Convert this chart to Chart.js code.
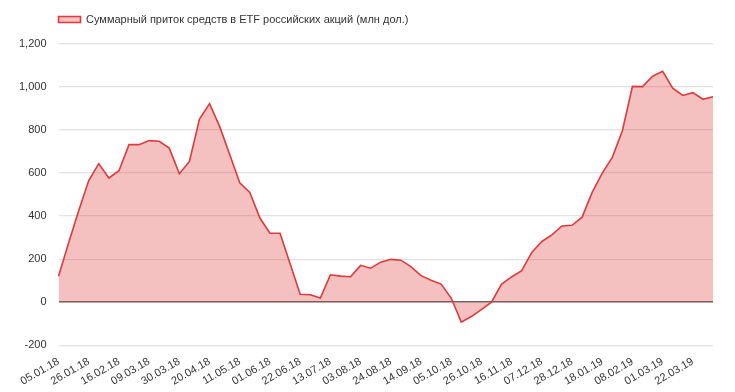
<!DOCTYPE html>
<html>
<head>
<meta charset="utf-8">
<script src="https://cdn.jsdelivr.net/npm/chart.js@4"></script>
<style>
  html, body { margin: 0; padding: 0; background: #fff; }
  #wrap { width: 735px; height: 392px; position: relative; }
</style>
</head>
<body>
<div id="wrap"><canvas id="chart"></canvas></div>
<script>
'use strict';

const seriesLabel = 'Суммарный приток средств в ETF российских акций (млн дол.)';

// weekly dates, 05.01.18 .. 05.04.19
const dates = [
  '05.01.18', '12.01.18', '19.01.18', '26.01.18', '02.02.18', '09.02.18',
  '16.02.18', '23.02.18', '02.03.18', '09.03.18', '16.03.18', '23.03.18',
  '30.03.18', '06.04.18', '13.04.18', '20.04.18', '27.04.18', '04.05.18',
  '11.05.18', '18.05.18', '25.05.18', '01.06.18', '08.06.18', '15.06.18',
  '22.06.18', '29.06.18', '06.07.18', '13.07.18', '20.07.18', '27.07.18',
  '03.08.18', '10.08.18', '17.08.18', '24.08.18', '31.08.18', '07.09.18',
  '14.09.18', '21.09.18', '28.09.18', '05.10.18', '12.10.18', '19.10.18',
  '26.10.18', '02.11.18', '09.11.18', '16.11.18', '23.11.18', '30.11.18',
  '07.12.18', '14.12.18', '21.12.18', '28.12.18', '04.01.19', '11.01.19',
  '18.01.19', '25.01.19', '01.02.19', '08.02.19', '15.02.19', '22.02.19',
  '01.03.19', '08.03.19', '15.03.19', '22.03.19', '29.03.19', '05.04.19',
];

const flows = [
  120, 275, 425, 565, 644, 577, 611, 732, 732, 751,
  748, 716, 597, 654, 851, 923, 817, 686, 555, 510,
  391, 321, 320, 178, 37, 34, 19, 127, 121, 118,
  171, 158, 186, 199, 195, 165, 123, 102, 84, 19,
  -93, -67, -35, 0, 84, 117, 146, 231, 282, 313,
  354, 357, 395, 510, 600, 673, 797, 1003, 1002, 1050,
  1073, 995, 961, 974, 943, 955,
];

const yTicks = [-200, 0, 200, 400, 600, 800, 1000, 1200];

const font = { family: 'Liberation Sans, Arial, sans-serif', size: 11 };

// legend starts at the plot's left edge, with some extra room below it
const legendTweak = {
  id: 'legendTweak',
  beforeInit(chart) {
    const fit = chart.legend.fit;
    chart.legend.fit = function () {
      fit.call(this);
      this.height += 9;
    };
  },
  afterLayout(chart) {
    const legend = chart.legend;
    const w = legend.right - legend.left;
    legend.left = chart.chartArea.left - 10;
    legend.right = legend.left + w;
  },
};

const chartData = {
  labels: dates,
  datasets: [
    {
      label: seriesLabel,
      data: flows,
      borderColor: '#e03a3a',
      backgroundColor: 'rgba(220, 60, 60, 0.32)',
      borderWidth: 1.6,
      pointRadius: 0,
      tension: 0,
      fill: 'origin',
    },
  ],
};

const options = {
  responsive: true,
  maintainAspectRatio: false,
  animation: false,
  layout: {
    padding: { left: 7, right: 22, top: 4, bottom: 2 },
  },
  scales: {
    y: {
      min: yTicks[0],
      max: yTicks[yTicks.length - 1],
      border: { display: false },
      grid: {
        drawTicks: false,
        color: function (context) {
          return context.tick.value === 0 ? '#666666' : '#e2e2e2';
        },
        lineWidth: function (context) {
          return context.tick.value === 0 ? 1.5 : 1.2;
        },
      },
      afterBuildTicks: function (axis) {
        axis.ticks = yTicks.map((v) => ({ value: v }));
      },
      ticks: {
        padding: 12,
        color: '#333',
        font: font,
      },
    },
    x: {
      grid: { display: false },
      border: { display: false },
      ticks: {
        autoSkip: false,
        maxRotation: 30,
        minRotation: 30,
        padding: 2,
        color: '#333',
        font: font,
        callback: function (value, index) {
          return index % 3 === 0 ? dates[index] : '';
        },
      },
    },
  },
  plugins: {
    legend: {
      display: true,
      align: 'start',
      labels: {
        boxWidth: 22,
        boxHeight: 6,
        color: '#333',
        font: font,
      },
    },
    tooltip: { enabled: false },
  },
};

const config = {
  type: 'line',
  data: chartData,
  options: options,
  plugins: [legendTweak],
};

const ctx = document.getElementById('chart');
let myChart = new Chart(ctx, config);
</script>
</body>
</html>
